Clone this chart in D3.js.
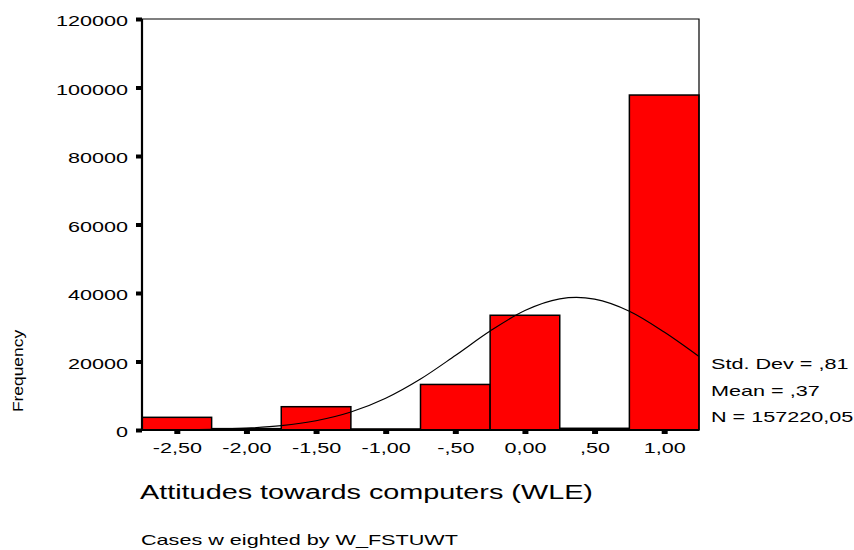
<!DOCTYPE html>
<html>
<head>
<meta charset="utf-8">
<script src="https://cdn.jsdelivr.net/npm/d3@7"></script>
<style>
  body { margin: 0; background: #fff; }
  svg text { font-family: "Liberation Sans", Arial, sans-serif; fill: #000; }
</style>
</head>
<body>
<div></div>
<script>
// datos del histograma
var binCenters = [-2.5, -2.0, -1.5, -1.0, -0.5, 0.0, 0.5, 1.0]
var frequencies = [3700, 400, 6800, 300, 13300, 33500, 500, 97800]
var xTickLabels = ['-2,50', '-2,00', '-1,50', '-1,00', '-,50', '0,00', ',50', '1,00']
var yTicks = [0, 20000, 40000, 60000, 80000, 100000, 120000]
// curva normal superpuesta
var curveX = [-2.75, -2.5, -2.25, -2.0, -1.75, -1.5, -1.25, -1.0, -0.75, -0.5, -0.25, 0.0, 0.25, 0.37, 0.5, 0.75, 1.0, 1.25]
var curveY = [25, 75, 210, 540, 1260, 2700, 5240, 9270, 14880, 21750, 28890, 34880, 38290, 38720, 38220, 34690, 28610, 21460]
var statsLines = ['Std. Dev = ,81', 'Mean = ,37', 'N = 157220,05']
var binWidth = 0.5

var width = 854
var height = 550
var plotLeft = 142, plotRight = 699, plotTop = 19, plotBottom = 430
var stretchK = 1.44

var svg = d3.select('div')
    .append('svg')
    .attr('width', width)
    .attr('height', height)

var x = d3.scaleLinear()
    .domain([-2.75, 1.25])
    .range([plotLeft, plotRight])

var y = d3.scaleLinear()
    .domain([0, 120000])
    .range([plotBottom, plotTop])

// estirar el texto en horizontal como en el original
function stretch(sel, k) {
    sel.each(function() {
        var w = this.getComputedTextLength()
        this.setAttribute('textLength', w * k)
        this.setAttribute('lengthAdjust', 'spacingAndGlyphs')
    })
}

// barras
svg.append('g')
    .selectAll('rect')
    .data(binCenters)
    .enter()
    .append('rect')
    .attr('x', (d) => x(d - binWidth / 2))
    .attr('y', (d, i) => y(frequencies[i]))
    .attr('width', (d) => x(d + binWidth / 2) - x(d - binWidth / 2))
    .attr('height', (d, i) => y(0) - y(frequencies[i]))
    .attr('fill', '#ff0000')
    .attr('stroke', '#000')
    .attr('stroke-width', 1.5)

// curva
var line = d3.line()
    .x((d, i) => x(curveX[i]))
    .y((d) => y(d))
    .curve(d3.curveMonotoneX)

svg.append('path')
    .datum(curveY)
    .attr('d', line)
    .attr('fill', 'none')
    .attr('stroke', '#000')
    .attr('stroke-width', 1.2)

// marco superior y derecho
svg.append('path')
    .attr('d', 'M' + plotLeft + ',' + plotTop + 'H' + plotRight + 'V' + plotBottom)
    .attr('fill', 'none')
    .attr('stroke', '#000')
    .attr('stroke-width', 1.2)

// ejes
var yaxis = d3.axisLeft(y).tickValues(yTicks).tickSize(6).tickPadding(8).tickFormat(d3.format('d'))
var gy = svg.append('g').attr('transform', 'translate(' + plotLeft + ',0)').call(yaxis)
gy.select('.domain').remove()
gy.selectAll('.tick line').attr('stroke', '#000').attr('stroke-width', 4)
gy.selectAll('.tick text')
    .attr('font-size', 15)
    .attr('dy', 6.5)
    .call(stretch, stretchK)

var xaxis = d3.axisBottom(x).tickValues(binCenters).tickSize(4).tickFormat((d, i) => xTickLabels[i])
var gx = svg.append('g').attr('transform', 'translate(0,' + plotBottom + ')').call(xaxis)
gx.select('.domain').remove()
gx.selectAll('.tick line').attr('stroke', '#000').attr('stroke-width', 6)
gx.selectAll('.tick text')
    .attr('font-size', 15)
    .attr('y', 23)
    .attr('dy', 0)
    .call(stretch, stretchK)

svg.append('line')
    .attr('x1', plotLeft).attr('x2', plotLeft)
    .attr('y1', plotTop).attr('y2', plotBottom + 1)
    .attr('stroke', '#000').attr('stroke-width', 2.2)
svg.append('line')
    .attr('x1', plotLeft).attr('x2', plotRight)
    .attr('y1', plotBottom).attr('y2', plotBottom)
    .attr('stroke', '#000').attr('stroke-width', 2.2)

// estadisticos
svg.append('g')
    .selectAll('text')
    .data(statsLines)
    .enter()
    .append('text')
    .attr('x', 711)
    .attr('y', (d, i) => 369 + i * 26.5)
    .attr('font-size', 15)
    .text((d) => d)
    .call(stretch, stretchK)

// titulos
svg.append('text')
    .attr('transform', 'translate(23,371) rotate(-90)')
    .attr('text-anchor', 'middle')
    .attr('font-size', 15)
    .text('Frequency')
    .call(stretch, 1.16)

svg.append('text')
    .attr('x', 140)
    .attr('y', 499)
    .attr('font-size', 20)
    .text('Attitudes towards computers (WLE)')
    .call(stretch, stretchK)

svg.append('text')
    .attr('x', 141)
    .attr('y', 545)
    .attr('font-size', 15)
    .text('Cases w eighted by W_FSTUWT')
    .call(stretch, stretchK)
</script>
</body>
</html>
